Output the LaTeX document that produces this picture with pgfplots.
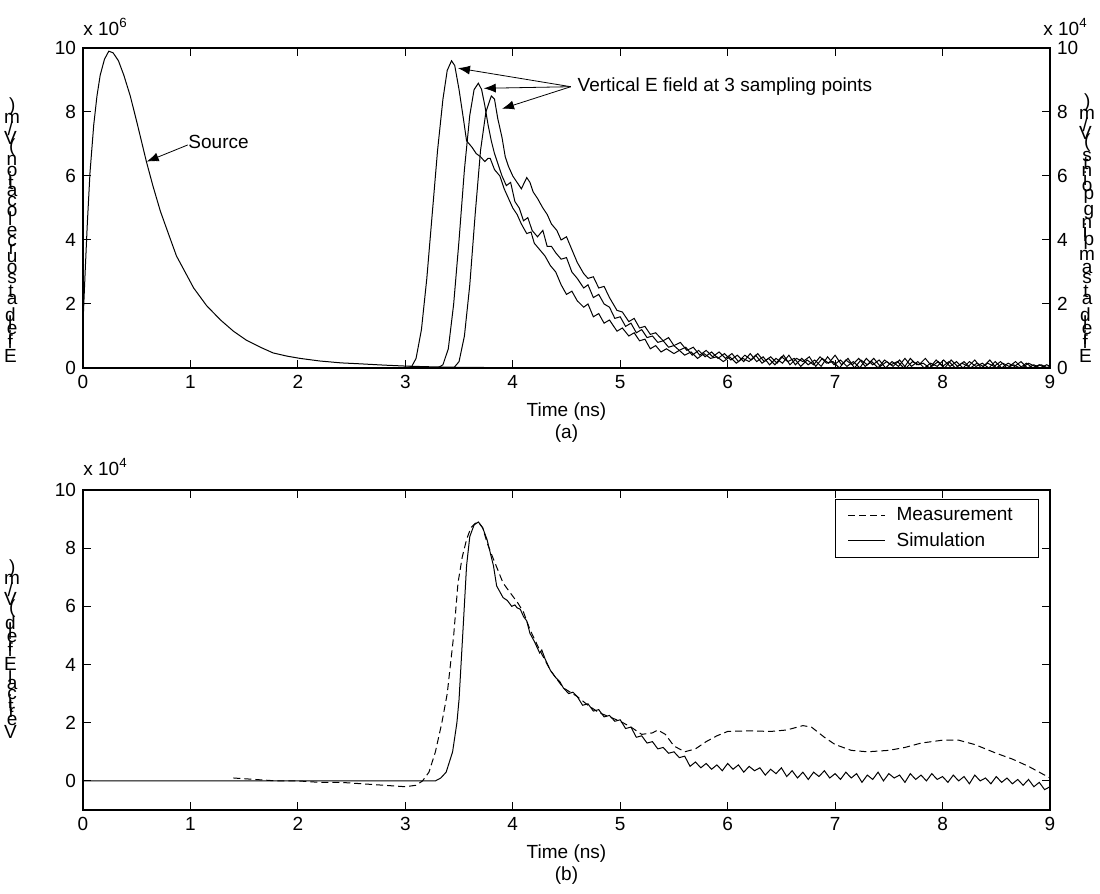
\documentclass[border=0pt]{standalone}
\usepackage{fontspec}
\setmainfont{Liberation Sans}
\usepackage{graphicx}
\usepackage{pgfplots}
\pgfplotsset{compat=1.18}
\usetikzlibrary{arrows.meta}

\newsavebox\gbox
\newcommand\ug[1]{\sbox\gbox{#1}\makebox[\wd\gbox][c]{\rotatebox[origin=c]{-90}{\usebox\gbox}}}
\ExplSyntaxOn
\NewDocumentCommand\vstack{m}{\str_map_inline:nn {#1} {\ug{##1}}}
\ExplSyntaxOff
\newcommand\ff{\fontsize{9.5}{11}\selectfont}

\pgfplotsset{
  myax/.style={width=483.5pt,height=160pt,scale only axis,xmin=0,xmax=9,xtick={0,...,9},
    tick align=inside, major tick length=4pt,
    axis line style={line width=0.7pt},
    every tick/.style={black,line width=0.5pt},
    clip mode=individual,
    /pgf/number format/assume math mode=true,
    tick label style={font=\ff}, label style={font=\ff},
    xlabel style={align=center}},
}

\begin{document}
\begin{tikzpicture}[font=\ff]
\useasboundingbox (0,0) rectangle (550pt,447pt);

% ---------------- (a) left axis: source ----------------
\begin{axis}[myax, at={(41.5pt,263pt)}, anchor=south west,
  ymin=0, ymax=10, ytick={0,2,...,10}, ytick pos=left,
  xlabel={Time (ns)\\(a)}]
\addplot[black, line width=0.5pt] coordinates {
(0,1.4)(0.02,3.0)(0.04,4.5)(0.065,6.1)(0.1,7.6)(0.13,8.5)(0.16,9.15)(0.2,9.65)(0.24,9.9)(0.28,9.85)
(0.33,9.6)(0.38,9.15)(0.44,8.5)(0.5,7.7)(0.59,6.45)(0.65,5.7)(0.72,4.9)(0.8,4.15)(0.87,3.5)(0.95,3.0)
(1.03,2.5)(1.15,1.95)(1.28,1.5)(1.4,1.15)(1.52,0.87)(1.65,0.65)(1.77,0.47)(1.9,0.37)(2.02,0.30)(2.2,0.22)
(2.4,0.16)(2.58,0.13)(2.8,0.09)(3.0,0.06)(3.2,0.04)(3.5,0.02)(4,0.01)(5,0)(9,0)};
\draw[-{Latex[length=6pt,width=4.5pt]}] (axis cs:0.975,6.97) -- (axis cs:0.593,6.45);
\node[anchor=west,inner sep=0] at (axis cs:0.978,7.07) {Source};
\node[anchor=south west,inner sep=0,yshift=6pt] at (rel axis cs:0,1) {x 10\textsuperscript{6}};
\end{axis}

% ---------------- (a) right axis: sampling points ----------------
\begin{axis}[myax, at={(41.5pt,263pt)}, anchor=south west,
  ymin=0, ymax=10, axis x line=none, axis y line*=right,
  ytick={0,2,...,10}, ytick pos=right, yticklabel pos=right]
\addplot[black, line width=0.5pt] coordinates {
(0,0)(3.0,0)(3.06,0.05)(3.1,0.3)(3.15,1.2)(3.2,2.8)(3.25,4.8)(3.3,6.8)(3.35,8.4)(3.39,9.3)(3.43,9.6)
(3.46,9.45)(3.5,8.7)(3.54,7.8)(3.57,7.1)(3.62,6.9)(3.66,6.7)(3.7,6.6)(3.74,6.45)(3.77,6.55)(3.79,6.55)
(3.83,6.2)(3.88,6.0)(3.92,5.6)(3.96,5.3)(4.0,5.0)(4.04,4.8)(4.08,4.5)(4.13,4.2)(4.17,4.25)(4.2,3.9)
(4.25,3.7)(4.3,3.5)(4.35,3.2)(4.4,3.0)(4.45,2.6)(4.5,2.3)(4.55,2.4)(4.6,2.1)(4.66,1.9)(4.7,2.0)
(4.75,1.6)(4.8,1.7)(4.85,1.4)(4.9,1.5)(4.97,1.15)(5.02,1.25)(5.08,1.0)(5.13,1.1)(5.18,0.85)(5.23,0.9)
(5.28,0.6)(5.33,0.7)(5.38,0.5)(5.43,0.6)(5.5,0.45)(5.55,0.55)(5.6,0.4)(5.66,0.5)(5.72,0.3)(5.78,0.45)
(5.84,0.3)(5.9,0.35)(5.96,0.2)(6.02,0.35)(6.08,0.15)(6.14,0.3)(6.2,0.2)(6.26,0.4)(6.32,0.15)(6.38,0.3)
(6.44,0.1)(6.5,0.35)(6.56,0.2)(6.62,0.3)(6.68,0.05)(6.74,0.25)(6.8,0.1)(6.86,0.35)(6.92,0.15)(6.98,0.2)
(7.04,0.0)(7.1,0.25)(7.16,0.1)(7.22,0.3)(7.28,0.05)(7.34,0.2)(7.4,0.0)(7.46,0.25)(7.52,0.1)(7.58,0.2)
(7.64,0.0)(7.7,0.3)(7.76,0.1)(7.82,0.15)(7.88,0.0)(7.94,0.25)(8.0,0.05)(8.06,0.2)(8.12,0.0)(8.18,0.15)
(8.24,0.05)(8.3,0.25)(8.36,0.0)(8.42,0.15)(8.48,0.05)(8.54,0.2)(8.6,0.0)(8.66,0.1)(8.72,0.0)(8.78,0.15)
(8.84,0.0)(8.9,0.1)(8.96,0.0)(9.0,0.05)};
\addplot[black, line width=0.5pt] coordinates {
(0,0)(3.3,0)(3.35,0.1)(3.4,0.6)(3.45,2.0)(3.5,4.0)(3.55,6.2)(3.6,7.9)(3.64,8.7)(3.68,8.9)(3.71,8.7)
(3.74,8.2)(3.77,7.6)(3.8,7.1)(3.83,6.7)(3.86,6.4)(3.9,6.0)(3.94,5.7)(3.98,5.8)(4.02,5.2)(4.06,5.0)
(4.1,4.6)(4.14,4.7)(4.18,4.3)(4.23,4.1)(4.28,4.3)(4.32,3.8)(4.36,3.8)(4.4,3.6)(4.45,3.4)(4.5,3.45)
(4.55,3.0)(4.6,2.8)(4.66,2.5)(4.7,2.6)(4.75,2.2)(4.8,2.3)(4.85,2.0)(4.9,1.9)(4.95,1.55)(5.0,1.6)
(5.05,1.3)(5.1,1.4)(5.15,1.1)(5.2,1.2)(5.25,0.95)(5.3,1.0)(5.35,0.8)(5.4,0.85)(5.45,0.65)(5.5,0.7)
(5.55,0.55)(5.61,0.65)(5.67,0.4)(5.73,0.55)(5.79,0.35)(5.85,0.5)(5.91,0.3)(5.97,0.45)(6.03,0.25)(6.09,0.4)
(6.15,0.2)(6.21,0.45)(6.27,0.2)(6.33,0.35)(6.39,0.1)(6.45,0.3)(6.51,0.15)(6.57,0.4)(6.63,0.1)(6.69,0.3)
(6.75,0.1)(6.81,0.25)(6.87,0.05)(6.93,0.35)(6.99,0.1)(7.05,0.25)(7.11,0.05)(7.17,0.2)(7.23,0.0)(7.29,0.3)
(7.35,0.1)(7.41,0.25)(7.47,0.0)(7.53,0.2)(7.59,0.05)(7.65,0.3)(7.71,0.05)(7.77,0.2)(7.83,0.0)(7.89,0.15)
(7.95,0.05)(8.01,0.25)(8.07,0.05)(8.13,0.2)(8.19,0.0)(8.25,0.2)(8.31,0.05)(8.37,0.15)(8.43,0.0)(8.49,0.2)
(8.55,0.0)(8.61,0.15)(8.67,0.05)(8.73,0.2)(8.79,0.0)(8.85,0.1)(8.91,0.0)(8.97,0.1)(9.0,0.05)};
\addplot[black, line width=0.5pt] coordinates {
(0,0)(3.45,0)(3.5,0.2)(3.55,1.0)(3.6,2.6)(3.65,4.8)(3.7,6.8)(3.75,8.0)(3.8,8.5)(3.83,8.4)(3.86,7.8)
(3.9,7.2)(3.93,6.6)(3.96,6.3)(4.0,6.0)(4.04,5.8)(4.08,5.6)(4.13,5.95)(4.16,5.8)(4.19,5.5)(4.23,5.3)
(4.28,5.0)(4.32,4.8)(4.36,4.5)(4.41,4.3)(4.45,4.0)(4.5,4.1)(4.55,3.7)(4.6,3.3)(4.66,2.95)(4.7,2.8)
(4.75,2.85)(4.8,2.5)(4.85,2.55)(4.9,2.2)(4.97,1.8)(5.02,1.75)(5.08,1.45)(5.13,1.55)(5.18,1.25)(5.23,1.3)
(5.28,1.05)(5.33,1.1)(5.4,0.85)(5.45,0.95)(5.5,0.7)(5.56,0.8)(5.62,0.55)(5.68,0.65)(5.74,0.4)(5.8,0.55)
(5.86,0.35)(5.92,0.5)(5.98,0.3)(6.04,0.45)(6.1,0.2)(6.16,0.4)(6.22,0.25)(6.28,0.45)(6.34,0.2)(6.4,0.35)
(6.46,0.15)(6.52,0.4)(6.58,0.1)(6.64,0.3)(6.7,0.2)(6.76,0.35)(6.82,0.05)(6.88,0.3)(6.94,0.15)(7.0,0.4)
(7.06,0.1)(7.12,0.3)(7.18,0.0)(7.24,0.25)(7.3,0.1)(7.36,0.3)(7.42,0.05)(7.48,0.2)(7.54,0.05)(7.6,0.25)
(7.66,0.0)(7.72,0.2)(7.78,0.1)(7.84,0.3)(7.9,0.05)(7.96,0.2)(8.02,0.0)(8.08,0.25)(8.14,0.05)(8.2,0.2)
(8.26,0.0)(8.32,0.15)(8.38,0.05)(8.44,0.25)(8.5,0.0)(8.56,0.15)(8.62,0.05)(8.68,0.2)(8.74,0.0)(8.8,0.15)
(8.86,0.05)(8.92,0.1)(8.98,0.0)(9.0,0.05)};
\draw[-{Latex[length=6pt,width=4.5pt]}] (axis cs:4.54,8.79) -- (axis cs:3.49,9.37);
\draw[-{Latex[length=6pt,width=4.5pt]}] (axis cs:4.54,8.79) -- (axis cs:3.73,8.74);
\draw[-{Latex[length=6pt,width=4.5pt]}] (axis cs:4.54,8.79) -- (axis cs:3.90,8.10);
\node[anchor=west,inner sep=0] at (axis cs:4.6,8.79) {Vertical E field at 3 sampling points};
\node[anchor=south west,inner sep=0,yshift=6pt,xshift=-3.5pt] at (rel axis cs:1,1) {x 10\textsuperscript{4}};
\end{axis}

% ---------------- (b) ----------------
\begin{axis}[myax, at={(41.5pt,42pt)}, anchor=south west,
  ymin=-1, ymax=10, ytick={0,2,...,10},
  xlabel={Time (ns)\\(b)},
  legend style={at={(rel axis cs:1,1)}, anchor=north east, xshift=-5.5pt, yshift=-4.5pt,
    draw=black, font=\ff, row sep=0.5pt, inner xsep=6pt, inner ysep=2pt},
  legend cell align=left,
  legend image code/.code={\draw[#1] (0pt,0pt) -- (18.5pt,0pt); \path (22pt,0pt);}]
\addplot[black, line width=0.5pt, dash pattern=on 3.5pt off 2pt] coordinates {
(1.4,0.1)(1.6,0.05)(1.8,0.0)(2.0,0.0)(2.2,-0.05)(2.4,-0.05)(2.6,-0.1)(2.8,-0.15)(3.0,-0.2)(3.1,-0.15)
(3.16,0.0)(3.22,0.3)(3.28,1.0)(3.34,2.0)(3.39,3.0)(3.45,5.0)(3.49,6.8)(3.53,7.7)(3.57,8.3)(3.61,8.7)
(3.65,8.85)(3.68,8.9)(3.72,8.7)(3.76,8.2)(3.79,7.9)(3.85,7.35)(3.91,6.8)(3.98,6.45)(4.05,6.1)(4.1,5.8)
(4.16,5.2)(4.25,4.5)(4.35,3.8)(4.47,3.2)(4.6,2.9)(4.7,2.6)(4.8,2.35)(4.9,2.2)(5.0,2.05)(5.1,1.85)
(5.2,1.6)(5.3,1.65)(5.35,1.75)(5.42,1.6)(5.5,1.2)(5.6,1.0)(5.7,1.1)(5.8,1.35)(5.9,1.55)(6.0,1.7)
(6.2,1.72)(6.4,1.7)(6.55,1.75)(6.7,1.9)(6.78,1.85)(6.9,1.5)(7.0,1.25)(7.15,1.05)(7.3,1.0)(7.5,1.05)
(7.65,1.15)(7.8,1.3)(8.0,1.4)(8.15,1.4)(8.3,1.25)(8.5,0.95)(8.65,0.75)(8.8,0.5)(9.0,0.1)};
\addlegendentry{\makebox[63pt][l]{Measurement}}
\addplot[black, line width=0.5pt] coordinates {
(0,0)(3.28,0)(3.33,0.1)(3.38,0.3)(3.44,1.0)(3.48,2.0)(3.5,2.8)(3.54,5.4)(3.57,7.4)(3.6,8.4)(3.64,8.8)
(3.68,8.9)(3.72,8.7)(3.76,8.3)(3.82,7.4)(3.85,6.7)(3.88,6.5)(3.91,6.3)(3.95,6.2)(3.99,6.0)(4.02,6.05)
(4.04,5.95)(4.07,5.9)(4.1,5.65)(4.13,5.5)(4.16,5.07)(4.2,4.8)(4.25,4.4)(4.27,4.5)(4.3,4.2)(4.35,3.8)
(4.4,3.55)(4.44,3.4)(4.47,3.2)(4.52,3.0)(4.56,3.05)(4.6,2.9)(4.65,2.6)(4.7,2.65)(4.75,2.4)(4.8,2.45)
(4.85,2.2)(4.9,2.25)(4.95,2.05)(5.0,2.1)(5.05,1.8)(5.1,1.85)(5.15,1.5)(5.2,1.55)(5.25,1.3)(5.3,1.35)
(5.35,1.1)(5.4,1.15)(5.45,0.95)(5.5,1.0)(5.55,0.8)(5.6,0.85)(5.65,0.5)(5.7,0.65)(5.75,0.45)(5.8,0.6)
(5.85,0.4)(5.9,0.55)(5.95,0.35)(6.0,0.6)(6.05,0.4)(6.1,0.55)(6.15,0.3)(6.2,0.5)(6.25,0.35)(6.3,0.45)
(6.35,0.2)(6.4,0.4)(6.45,0.25)(6.5,0.45)(6.55,0.15)(6.6,0.35)(6.65,0.1)(6.7,0.3)(6.75,0.05)(6.8,0.3)
(6.85,0.15)(6.9,0.35)(6.95,0.1)(7.0,0.25)(7.05,0.05)(7.1,0.3)(7.15,0.1)(7.2,0.25)(7.25,-0.05)(7.3,0.2)
(7.35,0.05)(7.4,0.3)(7.45,0.0)(7.5,0.25)(7.55,0.1)(7.6,0.2)(7.65,-0.05)(7.7,0.25)(7.75,0.05)(7.8,0.2)
(7.85,0.0)(7.9,0.25)(7.95,0.05)(8.0,0.15)(8.05,-0.05)(8.1,0.2)(8.15,0.0)(8.2,0.15)(8.25,-0.1)(8.3,0.2)
(8.35,0.0)(8.4,0.1)(8.45,-0.1)(8.5,0.15)(8.55,-0.05)(8.6,0.1)(8.65,-0.1)(8.7,0.05)(8.75,-0.15)(8.8,0.05)
(8.85,-0.2)(8.9,-0.05)(8.95,-0.3)(9.0,-0.2)};
\addlegendentry{Simulation}
\node[anchor=south west,inner sep=0,yshift=7pt] at (rel axis cs:0,1) {x 10\textsuperscript{4}};
\end{axis}

% garbled vertical axis labels (glyphs stacked upright)
\node[rotate=90,anchor=west,inner sep=0] at (6pt,265.5pt) {\vstack{E field at source location (V/m)}};
\node[rotate=90,anchor=west,inner sep=0] at (543.5pt,265.5pt) {\vstack{E field at sampling points (V/m)}};
\node[rotate=90,anchor=east,inner sep=0] at (6pt,164.5pt) {\vstack{Vertical E field (V/m)}};
\end{tikzpicture}
\end{document}
